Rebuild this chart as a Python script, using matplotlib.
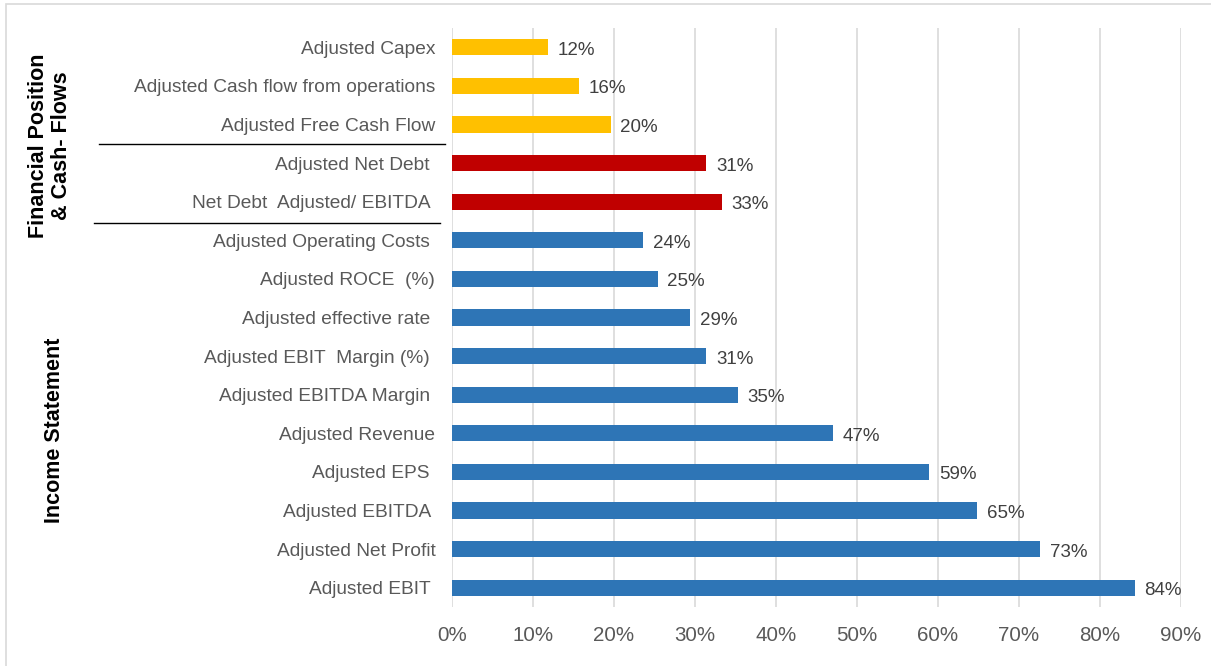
import matplotlib.pyplot as plt
from matplotlib.patches import Rectangle
from matplotlib.transforms import blended_transform_factory

plt.rcParams['font.family'] = ['Liberation Sans', 'DejaVu Sans']

# metrics top to bottom (trailing spaces as in the source chart)
labels = ['Adjusted Capex', 'Adjusted Cash flow from operations', 'Adjusted Free Cash Flow',
          'Adjusted Net Debt ', 'Net Debt  Adjusted/ EBITDA ', 'Adjusted Operating Costs ',
          'Adjusted ROCE  (%)', 'Adjusted effective rate ', 'Adjusted EBIT  Margin (%) ',
          'Adjusted EBITDA Margin ', 'Adjusted Revenue', 'Adjusted EPS ', 'Adjusted EBITDA ',
          'Adjusted Net Profit', 'Adjusted EBIT ']
values = [11.9, 15.7, 19.6, 31.4, 33.3, 23.6, 25.4, 29.4, 31.4, 35.3, 47.0, 58.9, 64.8, 72.6, 84.3]
groups = ['cash'] * 3 + ['debt'] * 2 + ['income'] * 10
group_colors = {'cash': '#FFC000', 'debt': '#C00000', 'income': '#2E75B6'}
xticks = [0, 10, 20, 30, 40, 50, 60, 70, 80, 90]

fig = plt.figure(figsize=(12.11, 6.66), dpi=100)
ax = fig.add_axes([452 / 1211, 1 - 607 / 666, (1181 - 452) / 1211, (607 - 28) / 666])

ypos = list(range(len(labels)))
cols = [group_colors[g] for g in groups]
ax.barh(ypos, values, height=0.42, color=cols, zorder=3)

for y, v in zip(ypos, values):
    ax.text(v + 1.2, y + 0.08, '{:.0f}%'.format(v), va='center', ha='left',
            fontsize=13.5, color='#404040')

ax.set_xlim(0, 90)
ax.set_ylim(len(labels) - 0.5, -0.5)
ax.set_xticks(xticks)
ax.set_xticklabels(['{}%'.format(t) for t in xticks])
ax.set_yticks(ypos)
ax.set_yticklabels(labels)
ax.tick_params(axis='y', length=0, pad=12, labelsize=13.8, labelcolor='#595959')
ax.tick_params(axis='x', length=0, pad=14, labelsize=14.8, labelcolor='#595959')
ax.grid(axis='x', color='#D9D9D9', linewidth=1.2, zorder=0)
for s in ax.spines.values():
    s.set_visible(False)

# separators between groups
trans = blended_transform_factory(fig.transFigure, ax.transData)
ax.plot([99 / 1211, 445 / 1211], [2.5, 2.5], color='black', lw=1, transform=trans, clip_on=False)
ax.plot([94 / 1211, 440 / 1211], [4.55, 4.55], color='black', lw=1, transform=trans, clip_on=False)

fig.text(50 / 1211, 1 - 146 / 666, 'Financial Position\n& Cash- Flows', rotation=90,
         ha='center', va='center', fontsize=15.5, fontweight='bold', linespacing=1.1)
fig.text(55 / 1211, 1 - 430 / 666, 'Income Statement', rotation=90,
         ha='center', va='center', fontsize=15.5, fontweight='bold')

# outer chart frame
fig.patches.append(Rectangle((6 / 1211, -0.05), 1.0, 1.05 - 4 / 666, transform=fig.transFigure,
                             fill=False, edgecolor='#D9D9D9', lw=1.2))

fig.savefig('out.png', dpi=100)
